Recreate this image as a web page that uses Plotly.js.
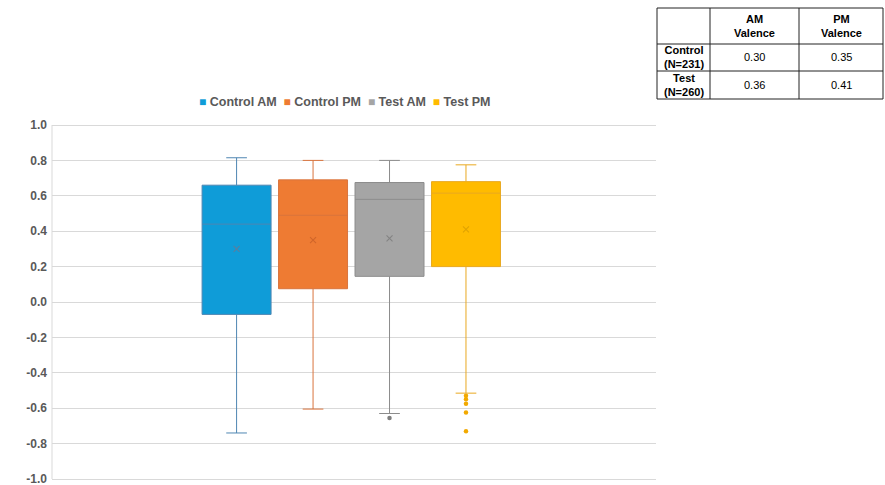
<!DOCTYPE html>
<html>
<head>
<meta charset="utf-8">
<script src="https://cdn.plot.ly/plotly-3.0.1.min.js"></script>
<style>
  html, body { margin: 0; padding: 0; background: #fff; }
  #chart { width: 885px; height: 485px; }
</style>
</head>
<body>
<div id="chart"></div>
<script>
// Valence distributions, morning vs evening, control vs test group
const seriesNames  = ['Control AM', 'Control PM', 'Test AM', 'Test PM'];
const upperWhisker = [0.815, 0.80, 0.80, 0.775];
const q3Values     = [0.66, 0.69, 0.675, 0.68];
const medianValues = [0.44, 0.49, 0.58, 0.615];
const q1Values     = [-0.07, 0.075, 0.145, 0.20];
const lowerWhisker = [-0.74, -0.605, -0.63, -0.515];
const meanValence  = [0.30, 0.35, 0.36, 0.41];
const outlierValues = [[], [], [-0.655], [-0.53, -0.55, -0.575, -0.625, -0.73]];

// y axis ticks
const yTickVals = [-1.0, -0.8, -0.6, -0.4, -0.2, 0.0, 0.2, 0.4, 0.6, 0.8, 1.0];
const yTickText = ['-1.0', '-0.8', '-0.6', '-0.4', '-0.2', '0.0', '0.2', '0.4', '0.6', '0.8', '1.0'];

// summary table
const tableRowLabels = ['Control<br>(N=231)', 'Test<br>(N=260)'];
const tableColLabels = ['AM<br>Valence', 'PM<br>Valence'];

// styling
const fillColors = ['#0f9cd8', '#ee7b33', '#a5a5a5', '#ffbb00'];
const lineColors = ['#4f86b2', '#d9743d', '#8c8c8c', '#e9a920'];
const meanColors = ['#5a7f9e', '#d0652a', '#838383', '#e0a300'];
const dotColors  = ['#0f9cd8', '#ee7b33', '#7f7f7f', '#f2a900'];

// pixel geometry of the plotting area; the y range is padded by 3px
// on each side so the +/-1.0 grid lines are kept
const W = 885, H = 485;
const plotL = 52, plotR = 656, plotT = 122, plotB = 482;
const yPad = 0.01695;
const px = v => (v - plotL) / (plotR - plotL);
const py = v => (plotB - v) / (plotB - plotT);

// box slots within the single category
const groupCenter = 0.4955, slotStep = 0.1266, boxWidth = 0.1142;
const slotPos = i => groupCenter + (i - (seriesNames.length - 1) / 2) * slotStep;

const traces = [];
seriesNames.forEach((name, i) => {
  traces.push({
    type: 'box',
    name: name,
    x: [slotPos(i)],
    q1: [q1Values[i]],
    median: [medianValues[i]],
    q3: [q3Values[i]],
    lowerfence: [lowerWhisker[i]],
    upperfence: [upperWhisker[i]],
    width: boxWidth,
    whiskerwidth: 0.3,
    boxpoints: false,
    fillcolor: fillColors[i],
    line: { color: lineColors[i], width: 1 },
    showlegend: false,
    hoverinfo: 'skip'
  });
  traces.push({
    type: 'scatter',
    mode: 'markers',
    x: [slotPos(i)],
    y: [meanValence[i]],
    marker: { symbol: 'x-thin-open', size: 6, color: meanColors[i],
              line: { color: meanColors[i], width: 1.1 } },
    showlegend: false,
    hoverinfo: 'skip'
  });
  if (outlierValues[i].length) {
    traces.push({
      type: 'scatter',
      mode: 'markers',
      x: outlierValues[i].map(() => slotPos(i)),
      y: outlierValues[i],
      marker: { color: dotColors[i], size: 4.5 },
      showlegend: false,
      hoverinfo: 'skip'
    });
  }
});

// legend line: coloured squares followed by series names
const nb = '\u00A0';
const legendText = seriesNames.map((n, i) =>
  '<span style="color:' + fillColors[i] + ';font-size:12px">\u25A0</span>' + nb + n
).join(nb + nb);

const annotations = [{
  xref: 'paper', yref: 'paper',
  x: px(344.5), y: py(102),
  xanchor: 'center', yanchor: 'middle',
  text: legendText, showarrow: false,
  font: { family: 'Liberation Sans, Arial, sans-serif', size: 12.5, color: '#595959', weight: 'bold' }
}];

// table layout (pixel edges)
const colEdges = [657, 710, 799, 883];
const rowEdges = [8, 44, 71, 99];
const tableFont = { family: 'Liberation Sans, Arial, sans-serif', size: 11, color: '#000' };
const cx = c => px((colEdges[c] + colEdges[c + 1]) / 2);
const cy = r => py((rowEdges[r] + rowEdges[r + 1]) / 2);
function cell(c, r, text, bold) {
  annotations.push({
    xref: 'paper', yref: 'paper', x: cx(c), y: cy(r),
    xanchor: 'center', yanchor: 'middle', showarrow: false,
    text: bold ? '<b>' + text.split('<br>').join('</b><br><b>') + '</b>' : text,
    font: tableFont
  });
}
tableColLabels.forEach((t, c) => cell(c + 1, 0, t, true));
tableRowLabels.forEach((t, r) => {
  cell(0, r + 1, t, true);
  cell(1, r + 1, meanValence[r * 2].toFixed(2), false);
  cell(2, r + 1, meanValence[r * 2 + 1].toFixed(2), false);
});

const shapes = [];
// left axis line, spanning exactly the labelled range
shapes.push({ type: 'line', xref: 'paper', yref: 'y', layer: 'below',
  x0: 0, x1: 0, y0: yTickVals[0], y1: yTickVals[yTickVals.length - 1],
  line: { color: '#d9d9d9', width: 1 } });
const border = { color: '#222', width: 1 };
shapes.push({ type: 'rect', xref: 'paper', yref: 'paper',
  x0: px(colEdges[0]), x1: px(colEdges[3]), y0: py(rowEdges[0]), y1: py(rowEdges[3]), line: border });
[1, 2].forEach(c => shapes.push({ type: 'line', xref: 'paper', yref: 'paper',
  x0: px(colEdges[c]), x1: px(colEdges[c]), y0: py(rowEdges[0]), y1: py(rowEdges[3]), line: border }));
[1, 2].forEach(r => shapes.push({ type: 'line', xref: 'paper', yref: 'paper',
  x0: px(colEdges[0]), x1: px(colEdges[3]), y0: py(rowEdges[r]), y1: py(rowEdges[r]), line: border }));

const layout = {
  width: W, height: H, autosize: false,
  margin: { l: plotL, r: W - plotR, t: plotT, b: H - plotB, pad: 0 },
  paper_bgcolor: '#fff', plot_bgcolor: '#fff',
  showlegend: false,
  hovermode: false,
  boxmode: 'overlay',
  xaxis: {
    range: [0, 1], fixedrange: true,
    showgrid: false, zeroline: false, showline: false,
    showticklabels: false, ticks: ''
  },
  yaxis: {
    range: [-1 - yPad, 1 + yPad], fixedrange: true,
    tickvals: yTickVals, ticktext: yTickText,
    showgrid: true, gridcolor: '#d9d9d9', gridwidth: 1,
    zeroline: false, showline: false,
    ticks: '', ticklabelstandoff: 4, ticklabeloverflow: 'allow',
    tickfont: { family: 'Liberation Sans, Arial, sans-serif', size: 12, color: '#595959', weight: 'bold' }
  },
  annotations: annotations,
  shapes: shapes
};

Plotly.newPlot('chart', traces, layout, { staticPlot: true, displayModeBar: false });
</script>
</body>
</html>
